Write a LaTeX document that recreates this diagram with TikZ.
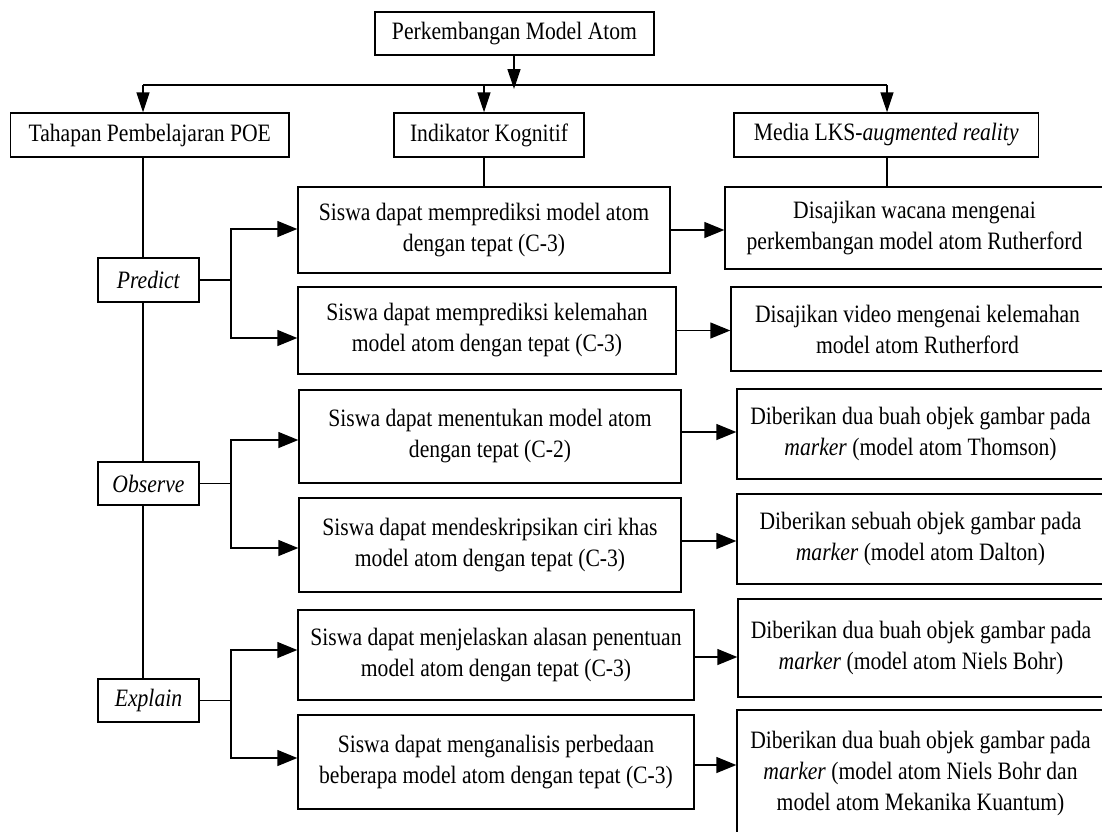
\documentclass[tikz,border=0pt]{standalone}
\usepackage{fontspec}
\setmainfont{Liberation Serif}[FakeStretch=0.865]
\usetikzlibrary{arrows.meta}
\begin{document}
\begin{tikzpicture}[x=1pt,y=-1pt,line width=1.4pt,
  box/.style={draw,line width=1.4pt,inner sep=0pt,align=center,font=\fontsize{25}{31}\selectfont},
  varrow/.style={-{Triangle[length=20pt,width=13pt]}},
  harrow/.style={-{Triangle[length=20pt,width=16pt]}}]
\useasboundingbox (0,0) rectangle (1102,831);
% top levels
\node[box,minimum width=279pt,minimum height=43pt] (top) at (514.5,33.5) {Perkembangan Model Atom};
\node[box,minimum width=278.5pt,minimum height=44pt] (tah) at (149.75,135) {Tahapan Pembelajaran POE};
\node[box,minimum width=190pt,minimum height=44pt] (ind) at (489,135) {Indikator Kognitif};
\node[box,minimum width=304.5pt,minimum height=44pt] (med) at (886.25,135) {Media LKS-\textit{augmented reality}};
% POE stages
\node[box,minimum width=101pt,minimum height=44pt] (pred) at (148.5,280) {\textit{Predict}};
\node[box,minimum width=101pt,minimum height=43pt] (obs) at (148.5,483.5) {\textit{Observe}};
\node[box,minimum width=101pt,minimum height=43pt] (exp) at (148.5,700.5) {\textit{Explain}};
% indicators
\node[box,minimum width=372pt,minimum height=86pt] (s1) at (484,230) {Siswa dapat memprediksi model atom\\dengan tepat (C-3)};
\node[box,minimum width=378pt,minimum height=87pt] (s2) at (487,330.5) {Siswa dapat memprediksi kelemahan\\model atom dengan tepat (C-3)};
\node[box,minimum width=382pt,minimum height=93pt] (s3) at (490,436.5) {Siswa dapat menentukan model atom\\dengan tepat (C-2)};
\node[box,minimum width=382pt,minimum height=94pt] (s4) at (490,545) {Siswa dapat mendeskripsikan ciri khas\\model atom dengan tepat (C-3)};
\node[box,minimum width=396pt,minimum height=90pt] (s5) at (496,655) {Siswa dapat menjelaskan alasan penentuan\\model atom dengan tepat (C-3)};
\node[box,minimum width=396pt,minimum height=94pt] (s6) at (496,762) {Siswa dapat menganalisis perbedaan\\beberapa model atom dengan tepat (C-3)};
% media
\node[box,minimum width=379pt,minimum height=82pt] (d1) at (914.5,228) {Disajikan wacana mengenai\\perkembangan model atom Rutherford};
\node[box,minimum width=373pt,minimum height=84pt] (d2) at (917.5,329) {Disajikan video mengenai kelemahan\\model atom Rutherford};
\node[box,minimum width=367pt,minimum height=90pt] (d3) at (920.5,434) {Diberikan dua buah objek gambar pada\\\textit{marker} (model atom Thomson)};
\node[box,minimum width=367pt,minimum height=90pt] (d4) at (920.5,539) {Diberikan sebuah objek gambar pada\\\textit{marker} (model atom Dalton)};
\node[box,minimum width=366pt,minimum height=98pt] (d5) at (921,648) {Diberikan dua buah objek gambar pada\\\textit{marker} (model atom Niels Bohr)};
\node[box,minimum width=367pt,minimum height=126pt] (d6) at (920.5,773) {Diberikan dua buah objek gambar pada\\\textit{marker} (model atom Niels Bohr dan\\model atom Mekanika Kuantum)};
% top distribution
\coordinate (hub) at (514,89);
\coordinate (hL) at (143,85);
\coordinate (hM) at (484,85);
\coordinate (hR) at (887,85);
\draw[varrow] (top.south -| hub) -- (hub);
\draw (hL) -- (hR);
\draw[varrow] (hL) -- (hL |- tah.north);
\draw[varrow] (hM) -- (hM |- ind.north);
\draw[varrow] (hR) -- (hR |- med.north);
\draw (ind.south -| hM) -- (s1.north -| hM);
\draw (med.south -| hR) -- (d1.north -| hR);
% POE spine
\draw (tah.south -| hL) -- (pred.north -| hL);
\draw (pred.south -| hL) -- (obs.north -| hL);
\draw (obs.south -| hL) -- (exp.north -| hL);
% branches
\coordinate (pb) at (231,280);
\coordinate (ob) at (231,483.5);
\coordinate (eb) at (231,700.5);
\draw (pred.east) -- (pb);
\draw[harrow] (pb) |- (s1.west |- 0,229);
\draw[harrow] (pb) |- (s2.west |- 0,338);
\draw (obs.east) -- (ob);
\draw[harrow] (ob) |- (s3.west |- 0,440);
\draw[harrow] (ob) |- (s4.west |- 0,548);
\draw (exp.east) -- (eb);
\draw[harrow] (eb) |- (s5.west |- 0,650);
\draw[harrow] (eb) |- (s6.west |- 0,758);
% indicator to media
\draw[harrow] (s1.east) -- (s1.east -| d1.west);
\draw[harrow] (s2.east) -- (s2.east -| d2.west);
\draw[harrow] (s3.east |- 0,432) -- (d3.west |- 0,432);
\draw[harrow] (s4.east |- 0,541) -- (d4.west |- 0,541);
\draw[harrow] (s5.east |- 0,657) -- (d5.west |- 0,657);
\draw[harrow] (s6.east |- 0,765) -- (d6.west |- 0,765);
\end{tikzpicture}
\end{document}
